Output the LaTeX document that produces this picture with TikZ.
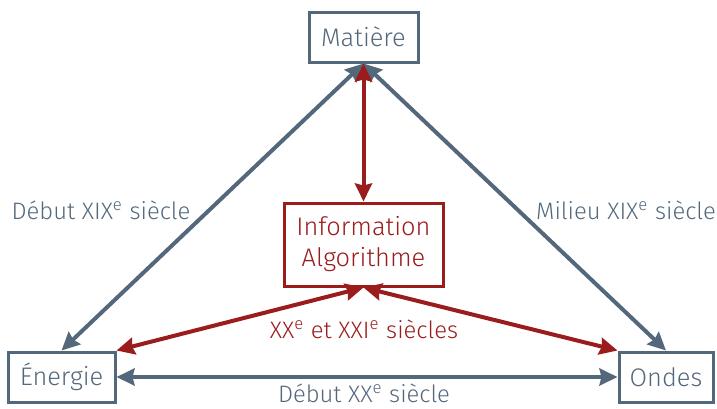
\documentclass[tikz,border=0pt]{standalone}
\usepackage{fontspec}
\setmainfont{Fira Sans Light}
\usetikzlibrary{arrows.meta}
\definecolor{ardoise}{RGB}{84,104,124}
\definecolor{bordeaux}{RGB}{155,28,28}

\begin{document}
\begin{tikzpicture}[x=0.5pt,y=-0.5pt,
  boite/.style={draw=ardoise, line width=1.5pt, text=ardoise, fill=white,
    minimum height=25pt, font=\fontsize{12.7}{14}\selectfont},
  fleche/.style={ardoise, line width=2pt, {Stealth[length=9pt,width=8.5pt,inset=1pt]}-{Stealth[length=9pt,width=8.5pt,inset=1pt]}},
  flecherouge/.style={fleche, bordeaux},
  etiquette/.style={text=ardoise, inner sep=0.5pt, font=\fontsize{11.9}{13}\selectfont}]
\useasboundingbox (0,0) rectangle (717,408);
% les quatre boites
\node[boite, minimum width=54.5pt] (matiere) at (363.5,37) {Matière};
\node[boite, draw=bordeaux, text=bordeaux, minimum width=79.5pt, minimum height=41.5pt, align=center,
  font=\fontsize{12.7}{15.5}\selectfont] (info) at (363.5,244.5) {Information\\Algorithme};
\node[boite, minimum width=53.5pt] (energie) at (61.5,377) {Énergie};
\node[boite, minimum width=47pt] (ondes) at (666,377) {Ondes};
% les fleches
\draw[fleche] (matiere.south) -- (energie.north);
\draw[fleche] (matiere.south) -- (ondes.north);
\draw[fleche] (energie.east) -- (ondes.west);
\draw[flecherouge] (matiere.south) -- (info.north);
\draw[flecherouge] (info.south) -- (energie.north east);
\draw[flecherouge] (info.south) -- (ondes.north west);
% les dates
\node[etiquette] (debutxix) at (101,210) {Début XIX\textsuperscript{e} siècle};
\node[etiquette] (milieuxix) at (626,210) {Milieu XIX\textsuperscript{e} siècle};
\node[etiquette, text=bordeaux] (xxxxi) at (364,329) {XX\textsuperscript{e} et XXI\textsuperscript{e} siècles};
\node[etiquette] (debutxx) at (364,393) {Début XX\textsuperscript{e} siècle};
\end{tikzpicture}
\end{document}
